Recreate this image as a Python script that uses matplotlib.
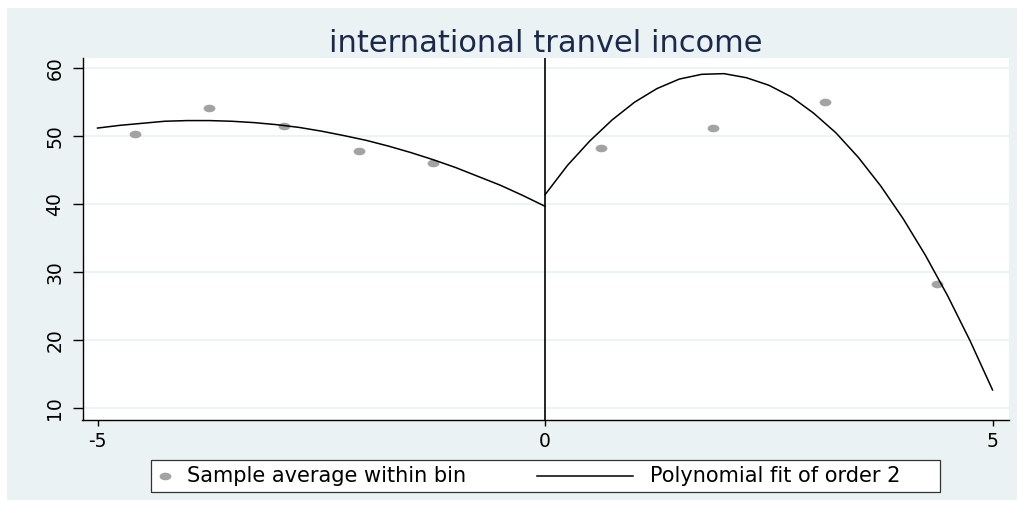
import numpy as np
import matplotlib.pyplot as plt
from matplotlib.lines import Line2D
from matplotlib.patches import Rectangle
from matplotlib.path import Path

# sample averages within bins
bin_left_x = [-4.58, -3.75, -2.92, -2.08, -1.25]
bin_left_y = [50.3, 54.2, 51.5, 47.8, 46.1]
bin_right_x = [0.63, 1.88, 3.13, 4.38]
bin_right_y = [48.3, 51.2, 55.1, 28.3]

# order-2 polynomial fit, each side of the cutoff
fit_left_x = [-5.0, -4.75, -4.5, -4.25, -4.0, -3.75, -3.5, -3.25, -3.0, -2.75,
              -2.5, -2.25, -2.0, -1.75, -1.5, -1.25, -1.0, -0.75, -0.5, -0.25, 0.0]
fit_left_y = [51.2, 51.6, 51.9, 52.2, 52.3, 52.3, 52.2, 52.0, 51.7, 51.3,
              50.75, 50.1, 49.4, 48.55, 47.6, 46.55, 45.4, 44.1, 42.8, 41.3, 39.7]
fit_right_x = [0.0, 0.25, 0.5, 0.75, 1.0, 1.25, 1.5, 1.75, 2.0, 2.25, 2.5,
               2.75, 3.0, 3.25, 3.5, 3.75, 4.0, 4.25, 4.5, 4.75, 5.0]
fit_right_y = [41.4, 45.7, 49.3, 52.4, 55.0, 57.0, 58.4, 59.1, 59.2, 58.6, 57.5,
               55.8, 53.4, 50.5, 46.9, 42.7, 37.9, 32.5, 26.5, 19.9, 12.7]

x_ticks = [-5, 0, 5]
y_ticks = [10, 20, 30, 40, 50, 60]

title = "international tranvel income"
label_bins = "Sample average within bin"
label_fit = "Polynomial fit of order 2"

W, H = 1023, 508
BG = "#eaf2f3"
DOT = "#a3a3a3"

fig = plt.figure(figsize=(W / 100, H / 100), dpi=100, facecolor="white")
# graph region
fig.add_artist(Rectangle((7 / W, 1 - 500 / H), (1017 - 7) / W, (500 - 8) / H,
                         transform=fig.transFigure, facecolor=BG,
                         edgecolor="none", zorder=-10))

ax = fig.add_axes([82.5 / W, 1 - 420 / H, (1009 - 82.5) / W, (420 - 58) / H])
ax.set_facecolor("white")

# wide oval marker
t = np.linspace(0, 2 * np.pi, 60)
oval = Path(np.column_stack([1.55 * np.cos(t), np.sin(t)]), closed=True)

ax.plot(bin_left_x, bin_left_y, ls="none", marker=oval, ms=8.5,
        color=DOT, mec="none", zorder=3)
ax.plot(bin_right_x, bin_right_y, ls="none", marker=oval, ms=8.5,
        color=DOT, mec="none", zorder=3)
ax.plot(fit_left_x, fit_left_y, color="black", lw=1.1, zorder=4)
ax.plot(fit_right_x, fit_right_y, color="black", lw=1.1, zorder=4)
ax.axvline(0, color="black", lw=1.2, zorder=5)

ax.set_xlim(-5.168, 5.184)
ax.set_ylim(8.28, 61.5)
ax.set_xticks(x_ticks)
ax.set_xticklabels([str(v) for v in x_ticks])
ax.set_yticks(y_ticks)
ax.set_yticklabels([str(v) for v in y_ticks], rotation=90, va="center")
ax.yaxis.grid(True, color=BG, lw=1.3)
ax.set_axisbelow(True)

for side in ["top", "right"]:
    ax.spines[side].set_visible(False)
for side in ["left", "bottom"]:
    ax.spines[side].set_color("black")
    ax.spines[side].set_linewidth(1.0)
ax.tick_params(axis="x", length=4.5, width=1, pad=4, labelsize=13.5)
ax.tick_params(axis="y", length=7, width=1, pad=6, labelsize=13.5)

ax.set_title(title, fontsize=22, color="#1b2a4a", pad=4)

# legend box below the plot
ly = 1 - 476 / H
fig.add_artist(Rectangle((151 / W, 1 - 492 / H), (940 - 151) / W, 32 / H,
                         transform=fig.transFigure, facecolor="white",
                         edgecolor="#333333", lw=0.9))
fig.add_artist(Line2D([165 / W], [ly], ls="none", marker=oval, ms=8.5,
                      color=DOT, mec="none", transform=fig.transFigure))
fig.text(187 / W, ly, label_bins, fontsize=15, va="center", ha="left")
fig.add_artist(Line2D([537 / W, 633 / W], [ly, ly], color="black", lw=1.1,
                      transform=fig.transFigure))
fig.text(650 / W, ly, label_fit, fontsize=15, va="center", ha="left")

fig.savefig("out.png", dpi=100, facecolor="white")
